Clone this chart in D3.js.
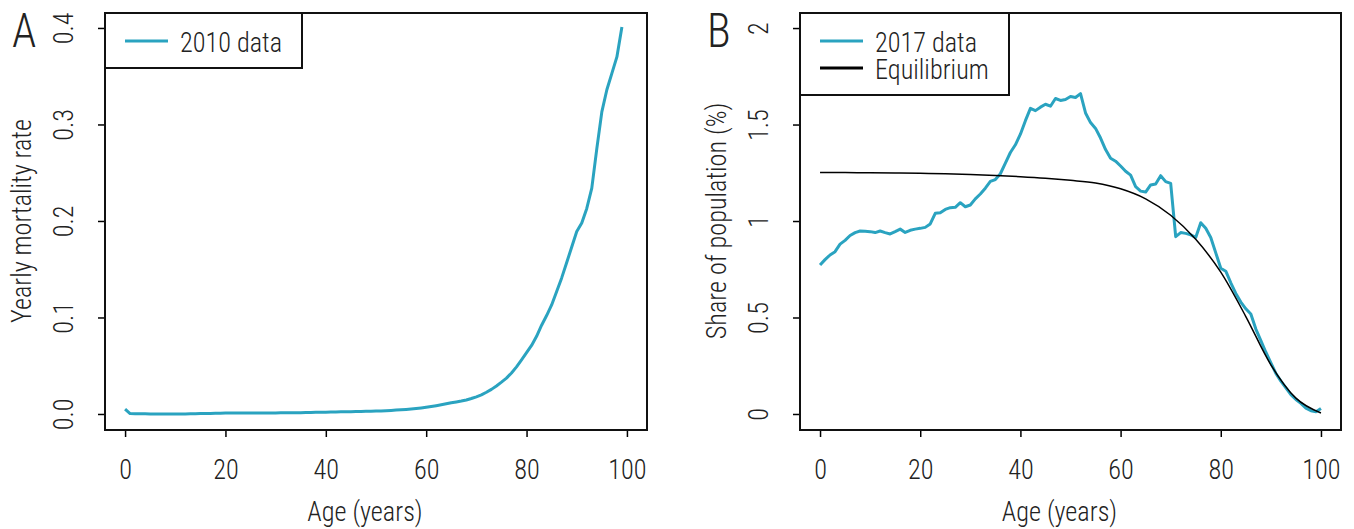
<!DOCTYPE html>
<html>
<head>
<meta charset="utf-8">
<script src="https://cdn.jsdelivr.net/npm/d3@7"></script>
<style>
  body { margin: 0; background: #fff; }
  svg text { font-family: "Roboto Condensed", Roboto, "Liberation Sans Narrow", sans-serif; font-weight: 300; fill: #222; }
</style>
</head>
<body>
<svg id="chart" width="1354" height="529"></svg>
<script>
// yearly mortality rate, 2010, ages 0..99 (index = age)
var mortality2010 = [
  0.0050, 0.0004, 0.0003, 0.0002, 0.0002, 0.0001, 0.0001, 0.0001, 0.0001, 0.0001,
  0.0001, 0.0001, 0.0001, 0.0002, 0.0003, 0.0004, 0.0005, 0.0006, 0.0007, 0.0008,
  0.0009, 0.0009, 0.0010, 0.0010, 0.0010, 0.0010, 0.0010, 0.0010, 0.0011, 0.0011,
  0.0011, 0.0012, 0.0012, 0.0013, 0.0013, 0.0014, 0.0015, 0.0016, 0.0017, 0.0018,
  0.0019, 0.0020, 0.0021, 0.0022, 0.0023, 0.0024, 0.0025, 0.0026, 0.0027, 0.0028,
  0.0030, 0.0032, 0.0034, 0.0037, 0.0040, 0.0043, 0.0047, 0.0051, 0.0056, 0.0062,
  0.0069, 0.0077, 0.0086, 0.0095, 0.0105, 0.0116, 0.0125, 0.0134, 0.0145, 0.0160,
  0.0178, 0.0198, 0.0225, 0.0255, 0.0290, 0.0330, 0.0372, 0.0425, 0.0488, 0.0560,
  0.0635, 0.0710, 0.0805, 0.0920, 0.1020, 0.1130, 0.1270, 0.1410, 0.1570, 0.1730,
  0.1890, 0.1980, 0.2130, 0.2340, 0.2750, 0.3130, 0.3360, 0.3530, 0.3700, 0.4010
];

// share of population (%), 2017, ages 0..100 (index = age)
var share2017 = [
  0.772, 0.800, 0.824, 0.841, 0.880, 0.900, 0.925, 0.940, 0.948, 0.947,
  0.945, 0.940, 0.948, 0.940, 0.933, 0.945, 0.958, 0.941, 0.952, 0.958,
  0.962, 0.967, 0.985, 1.040, 1.043, 1.060, 1.069, 1.071, 1.095, 1.074,
  1.083, 1.115, 1.140, 1.170, 1.205, 1.215, 1.245, 1.300, 1.355, 1.395,
  1.450, 1.520, 1.584, 1.572, 1.590, 1.605, 1.595, 1.635, 1.625, 1.630,
  1.645, 1.640, 1.660, 1.560, 1.510, 1.480, 1.430, 1.370, 1.325, 1.310,
  1.285, 1.258, 1.238, 1.178, 1.155, 1.150, 1.187, 1.192, 1.235, 1.204,
  1.195, 0.919, 0.940, 0.936, 0.928, 0.915, 0.991, 0.962, 0.915, 0.835,
  0.755, 0.740, 0.680, 0.625, 0.580, 0.545, 0.518, 0.440, 0.380, 0.320,
  0.265, 0.210, 0.170, 0.135, 0.100, 0.075, 0.055, 0.030, 0.017, 0.012,
  0.029
];

// equilibrium age distribution (%)
var eqAges  = [0, 5, 10, 15, 20, 25, 30, 35, 40, 45, 50, 55, 60, 65, 70, 75, 80, 85, 90, 95, 100];
var eqShare = [1.252, 1.251, 1.250, 1.249, 1.247, 1.245, 1.241, 1.236, 1.230, 1.222, 1.211,
               1.197, 1.167, 1.115, 1.030, 0.905, 0.735, 0.505, 0.255, 0.082, 0.005];

var xTicks = [0, 20, 40, 60, 80, 100];
var yTicksA = [0, 0.1, 0.2, 0.3, 0.4];
var yTicksB = [0, 0.5, 1, 1.5, 2];

var teal = '#2aa3c0';
var fs = '28.5px';
var svg = d3.select('#chart');

function panel(opt)
{
    var x = d3.scaleLinear().domain([-4, 104]).range([opt.left, opt.right]);
    var y = d3.scaleLinear().domain(opt.ydom).range([430, 13]);
    var g = svg.append('g');

    // x axis
    var xa = g.append('g')
        .attr('transform', 'translate(0,430)')
        .call(d3.axisBottom(x).tickValues(xTicks).tickSize(7).tickSizeOuter(0));
    xa.select('.domain').remove();
    xa.selectAll('.tick line').attr('stroke', '#000').attr('stroke-width', 1.5);
    xa.selectAll('.tick text')
        .attr('y', 49).attr('dy', 0)
        .style('font-size', fs);

    // y axis, labels turned like R's las=0
    var ya = g.append('g')
        .attr('transform', 'translate(' + opt.left + ',0)')
        .call(d3.axisLeft(y).tickValues(opt.yticks).tickFormat(opt.yfmt).tickSize(7).tickSizeOuter(0));
    ya.select('.domain').remove();
    ya.selectAll('.tick line').attr('stroke', '#000').attr('stroke-width', 1.5);
    ya.selectAll('.tick text')
        .attr('transform', 'rotate(-90)')
        .attr('x', 0).attr('y', -32).attr('dy', 0)
        .attr('text-anchor', 'middle')
        .style('font-size', fs);

    // lines
    opt.series.forEach(function(s) {
        var line = d3.line()
            .x(function(d, i) { return x(s.xs ? s.xs[i] : i); })
            .y(function(d) { return y(d); });
        if (s.smooth) line.curve(d3.curveMonotoneX);
        g.append('path')
            .datum(s.values)
            .attr('d', line)
            .attr('fill', 'none')
            .attr('stroke', s.color)
            .attr('stroke-width', s.width)
            .attr('stroke-linejoin', 'round');
    });

    // box
    g.append('rect')
        .attr('x', opt.left).attr('y', 13)
        .attr('width', opt.right - opt.left).attr('height', 417)
        .attr('fill', 'none').attr('stroke', '#111').attr('stroke-width', 2);

    // legend
    var lg = g.append('g');
    lg.append('rect')
        .attr('x', opt.left).attr('y', 13)
        .attr('width', opt.legendW).attr('height', 28 + 27 * opt.series.length)
        .attr('fill', '#fff').attr('stroke', '#111').attr('stroke-width', 2);
    opt.series.forEach(function(s, i) {
        var ly = 41 + 27 * i;
        lg.append('line')
            .attr('x1', opt.left + 20).attr('x2', opt.left + 63)
            .attr('y1', ly).attr('y2', ly)
            .attr('stroke', s.color).attr('stroke-width', 3);
        lg.append('text')
            .attr('x', opt.left + 75).attr('y', ly + 11)
            .style('font-size', fs)
            .text(s.name);
    });

    // axis titles
    g.append('text')
        .attr('x', (opt.left + opt.right) / 2 - 11).attr('y', 521)
        .attr('text-anchor', 'middle')
        .style('font-size', fs)
        .text('Age (years)');
    g.append('text')
        .attr('transform', 'translate(' + (opt.left - 74) + ',' + 221 + ') rotate(-90)')
        .attr('text-anchor', 'middle')
        .style('font-size', fs)
        .text(opt.ylab);

    // panel letter
    g.append('text')
        .attr('x', opt.left - 93).attr('y', 47)
        .style('font-size', '48px')
        .text(opt.letter);
}

panel({
    left: 105, right: 647, ydom: [-0.0166, 0.4155],
    yticks: yTicksA, yfmt: d3.format('.1f'),
    ylab: 'Yearly mortality rate', letter: 'A', legendW: 197,
    series: [{name: '2010 data', values: mortality2010, color: teal, width: 3}]
});

panel({
    left: 800, right: 1341, ydom: [-0.083, 2.078],
    yticks: yTicksB, yfmt: function(d) { return String(d); },
    ylab: 'Share of population (%)', letter: 'B', legendW: 209,
    series: [
        {name: '2017 data', values: share2017, color: teal, width: 3},
        {name: 'Equilibrium', values: eqShare, xs: eqAges, color: '#000', width: 1.5, smooth: true}
    ]
});

// squeeze the text to a condensed face
svg.selectAll('text').each(function() {
    var w = this.getComputedTextLength();
    d3.select(this).attr('textLength', w * 0.92).attr('lengthAdjust', 'spacingAndGlyphs');
});
</script>
</body>
</html>
